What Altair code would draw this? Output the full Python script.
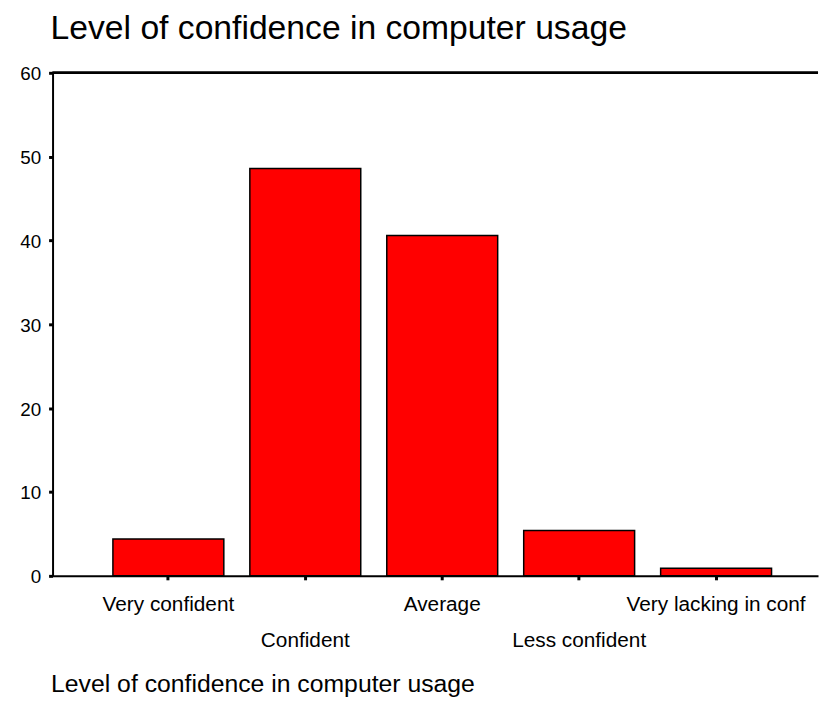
import altair as alt
import pandas as pd

categories = ["Very confident", "Confident", "Average", "Less confident", "Very lacking in conf"]
values = [4.4, 48.6, 40.6, 5.4, 0.9]
y_ticks = [0, 10, 20, 30, 40, 50, 60]

df = pd.DataFrame({"cat": categories, "val": values})

W = 773
H = 508
FONT = "Liberation Sans"

x_enc = alt.X(
    "cat:N",
    sort=categories,
    scale=alt.Scale(paddingInner=0.19, paddingOuter=0.39, align=0.565),
    axis=alt.Axis(
        title="Level of confidence in computer usage",
        titleFont=FONT, titleFontSize=25, titleFontWeight="normal", titleColor="black",
        titleAnchor="start", titleAlign="left", titleBaseline="middle",
        titleX=-2, titleY=109,
        labelFont=FONT, labelFontSize=21, labelColor="black", labelAngle=0,
        labelBaseline="top", labelPadding=14, labelLineHeight=36,
        labelExpr="indexof(['Confident','Less confident'], datum.value) >= 0 ? ['', datum.label] : datum.label",
        labelOverlap=False, labelLimit=400,
        domainColor="black", domainWidth=2,
        tickColor="black", tickSize=4, tickWidth=3,
    ),
)

bars = alt.Chart(df).mark_bar(color="#ff0000", stroke="black", strokeWidth=1.5).encode(
    x=x_enc,
    y=alt.Y(
        "val:Q",
        scale=alt.Scale(domain=[0, 60], nice=False),
        axis=alt.Axis(
            title=None, values=y_ticks, grid=False,
            labelFont=FONT, labelFontSize=19, labelColor="black", labelPadding=8,
            labelOffset=1,
            domainColor="black", domainWidth=2,
            tickColor="black", tickSize=4, tickWidth=3,
        ),
    ),
)

top = alt.Chart(df).mark_rule(color="black", strokeWidth=2).encode(
    y=alt.datum(60), x=alt.value(0), x2=alt.value(W)
)

chart = (
    alt.layer(bars, top)
    .properties(
        width=W,
        height=H,
        title=alt.TitleParams(
            "Level of confidence in computer usage",
            font=FONT, fontSize=34, fontWeight="normal", color="black",
            anchor="start", frame="group", offset=19, dx=-2,
        ),
        autosize=alt.AutoSizeParams(type="none"),
        padding={"left": 45, "top": 62, "right": 1, "bottom": 130},
    )
    .configure_view(stroke=None)
)

chart.save("out.html", embed_options={"renderer": "svg", "actions": False})
